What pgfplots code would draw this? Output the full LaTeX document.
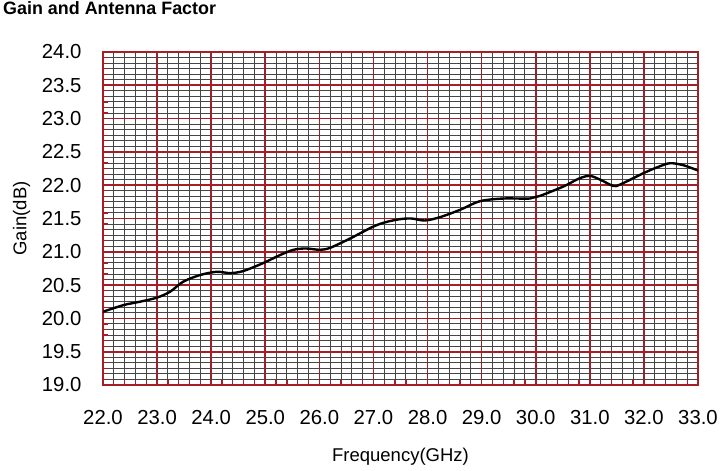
\documentclass[border=0pt]{standalone}
\usepackage{pgfplots}
\pgfplotsset{compat=1.18}
\usepackage{fontspec}
\setmainfont{Liberation Sans}
\definecolor{gridred}{RGB}{165,30,40}
\definecolor{minorgray}{RGB}{70,70,70}
\begin{document}
\begin{tikzpicture}[x=1pt,y=1pt]
\path[use as bounding box] (0,0) rectangle (721,471);
\node[anchor=base west,font=\fontsize{17.9}{20}\selectfont\bfseries,inner sep=0pt] at (3,456) {Gain and Antenna Factor};
\begin{axis}[
  at={(103pt,86pt)}, anchor=south west,
  scale only axis, width=595pt, height=333pt,
  xmin=22, xmax=33, ymin=19, ymax=24,
  xtick={22,23,...,33}, ytick={19,19.5,...,24},
  minor x tick num=4, minor y tick num=5,
  grid=both,
  major grid style={gridred, line width=1.7pt},
  minor grid style={minorgray, line width=1pt},
  axis line style={gridred, line width=1.7pt},
  tick style={gridred, line width=1.2pt},
  major tick length=5pt, minor tick length=5pt,
  tick align=inside,
  xtick pos=bottom, ytick pos=left,
  /pgf/number format/assume math mode=true,
  xticklabel={\pgfmathprintnumber[fixed,fixed zerofill,precision=1]{\tick}},
  yticklabel={\pgfmathprintnumber[fixed,fixed zerofill,precision=1]{\tick}},
  ticklabel style={font=\fontsize{20.3}{22}\selectfont},
  xticklabel style={yshift=-22pt},
  yticklabel style={xshift=-18pt},
  xlabel={Frequency(GHz)}, ylabel={Gain(dB)},
  label style={font=\fontsize{18.5}{20}\selectfont},
  xlabel style={yshift=-16pt},
  ylabel style={yshift=5pt},
]
\addplot[black, line width=2.4pt, smooth, tension=0.5] coordinates {
(22.00,20.10) (22.38,20.20) (22.68,20.25) (22.99,20.31) (23.24,20.40)
(23.48,20.55) (23.79,20.65) (24.10,20.70) (24.35,20.68) (24.59,20.71)
(24.96,20.83) (25.27,20.95) (25.52,21.03) (25.75,21.05) (26.01,21.03)
(26.20,21.06) (26.57,21.20) (27.00,21.38) (27.25,21.45) (27.49,21.49)
(27.70,21.50) (27.95,21.47) (28.23,21.52) (28.60,21.63) (28.97,21.76)
(29.40,21.80) (29.89,21.80) (30.08,21.84) (30.51,21.98) (30.80,22.10)
(31.00,22.14) (31.20,22.08) (31.43,21.99) (31.56,22.01) (31.99,22.18)
(32.25,22.27) (32.48,22.33) (32.73,22.30) (33.00,22.22)
};
\end{axis}
\end{tikzpicture}
\end{document}
